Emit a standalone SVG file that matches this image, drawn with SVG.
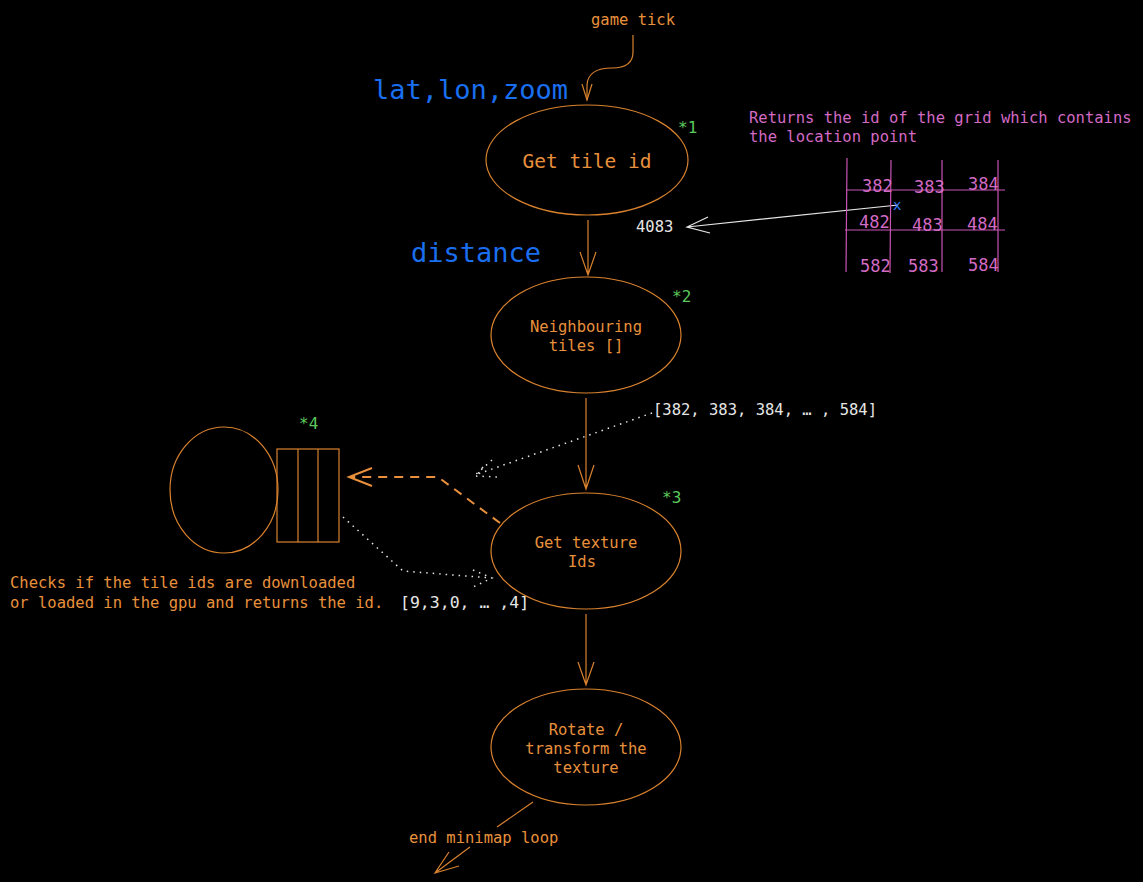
<svg xmlns="http://www.w3.org/2000/svg" width="1143" height="882" viewBox="0 0 1143 882">
<style>
text{font-family:"DejaVu Sans Mono","Liberation Mono",monospace;}
.o{fill:#e8903c;font-size:15.5px;}
.ob{fill:#e8903c;font-size:15.5px;}
.g{fill:#5cc85c;font-size:16px;}
.b{fill:#1a6ff0;font-size:27px;}
.w{fill:#e6e6e6;font-size:15.5px;}
.p{fill:#d36ac4;font-size:15.5px;}
.c{text-anchor:middle;}
.node{fill:none;stroke:#d9822e;stroke-width:1.2;}
.edge{fill:none;stroke:#d9822e;stroke-width:1.2;}
.wl{fill:none;stroke:#e6e6e6;stroke-width:1.2;}
.dot{fill:none;stroke:#e6e6e6;stroke-width:1.5;stroke-dasharray:1.5 5;}
.dash{fill:none;stroke:#e8903c;stroke-width:2;stroke-dasharray:9 7;}
.grid{stroke:#c855b4;stroke-width:1.2;}
</style>
<rect width="1143" height="882" fill="#000"/>

<g id="connectors">
  <path class="edge" d="M633,35 V52 Q633,68 612,68 Q588,68 587,85 L587,100"/>
  <path class="edge" d="M582,84 L587,100 L592,84"/>
  <path class="edge" d="M588,220 V275 M580,252 L588,275 L596,252"/>
  <path class="edge" d="M586,398 V489 M578,465 L586,489 L594,465"/>
  <path class="edge" d="M586,614 V685 M578,662 L586,685 L594,662"/>
  <path class="edge" d="M533,802 L497,827 M470,847 L435,873 M449,852 L435,873 L459,866"/>
  <path class="wl" d="M898,205 L687,227 M708,217 L687,227 L710,233"/>
  <path class="dot" d="M652,413 L475,475 M492,460 L474,476 L498,477 M483,467 L477,475"/>
  <path class="dash" d="M500,523 L438,477 L350,477"/>
  <path class="edge" d="M372,468 L349,477 L372,486" style="stroke:#e8903c;stroke-width:2"/>
  <path class="dot" d="M343,517 L403,571 L491,578 M473,570 L492,578 L473,587"/>
</g>

<g id="n-gametick"><text class="o" x="591" y="25">game tick</text></g>
<g id="lbl-latlon"><text class="b" x="373" y="99">lat,lon,zoom</text></g>

<g id="n1">
  <ellipse class="node" cx="587" cy="160" rx="101" ry="55"/>
  <text class="c" x="587" y="168" style="fill:#e8903c;font-size:19.5px">Get tile id</text>
  <text class="g" x="678" y="133">*1</text>
</g>

<g id="lbl-4083"><text class="w" x="636" y="232">4083</text></g>
<g id="lbl-distance"><text class="b" x="411" y="262">distance</text></g>

<g id="n2">
  <ellipse class="node" cx="586" cy="335" rx="95" ry="58"/>
  <text class="o c" x="586" y="332">Neighbouring</text>
  <text class="o c" x="586" y="351">tiles []</text>
  <text class="g" x="672" y="302">*2</text>
</g>

<g id="lbl-list"><text class="w" x="653" y="415">[382, 383, 384, … , 584]</text></g>

<g id="n4">
  <ellipse class="node" cx="224" cy="490" rx="54" ry="63"/>
  <rect class="node" x="277" y="449" width="62" height="93"/>
  <line class="node" x1="298" y1="449" x2="298" y2="542"/>
  <line class="node" x1="318" y1="449" x2="318" y2="542"/>
  <text class="g" x="299" y="429">*4</text>
</g>

<g id="n3">
  <ellipse class="node" cx="586" cy="551" rx="95" ry="58"/>
  <text class="o c" x="586" y="548">Get texture</text>
  <text class="o c" x="582" y="567">Ids</text>
  <text class="g" x="662" y="503">*3</text>
</g>

<g id="lbl-checks">
  <text class="ob" x="10" y="588">Checks if the tile ids are downloaded</text>
  <text class="ob" x="10" y="608">or loaded in the gpu and returns the id.</text>
</g>
<g id="lbl-texids"><text class="w" x="400" y="608" style="font-size:16.5px">[9,3,0, … ,4]</text></g>

<g id="n5">
  <ellipse class="node" cx="586" cy="747" rx="95" ry="58"/>
  <text class="o c" x="586" y="735">Rotate /</text>
  <text class="o c" x="586" y="754">transform the</text>
  <text class="o c" x="586" y="773">texture</text>
</g>

<g id="n-end"><text class="o" x="409" y="843">end minimap loop</text></g>

<g id="grid-note">
  <text class="p" x="749" y="123">Returns the id of the grid which contains</text>
  <text class="p" x="749" y="142">the location point</text>
  <line class="grid" x1="847" y1="158" x2="846" y2="272"/>
  <line class="grid" x1="891" y1="160" x2="890" y2="273"/>
  <line class="grid" x1="942" y1="160" x2="942" y2="272"/>
  <line class="grid" x1="998" y1="160" x2="998" y2="272"/>
  <line class="grid" x1="846" y1="190" x2="1005" y2="190"/>
  <line class="grid" x1="845" y1="230" x2="1005" y2="230"/>
  <g style="fill:#d36ac4;font-size:17px">
    <text x="862" y="192">382</text>
    <text x="914" y="193">383</text>
    <text x="968" y="190">384</text>
    <text x="859" y="228">482</text>
    <text x="912" y="231">483</text>
    <text x="967" y="230">484</text>
    <text x="860" y="272">582</text>
    <text x="908" y="272">583</text>
    <text x="968" y="271">584</text>
  </g>
  <text x="893" y="210" style="fill:#2f7ff5;font-size:14px">x</text>
</g>
</svg>
